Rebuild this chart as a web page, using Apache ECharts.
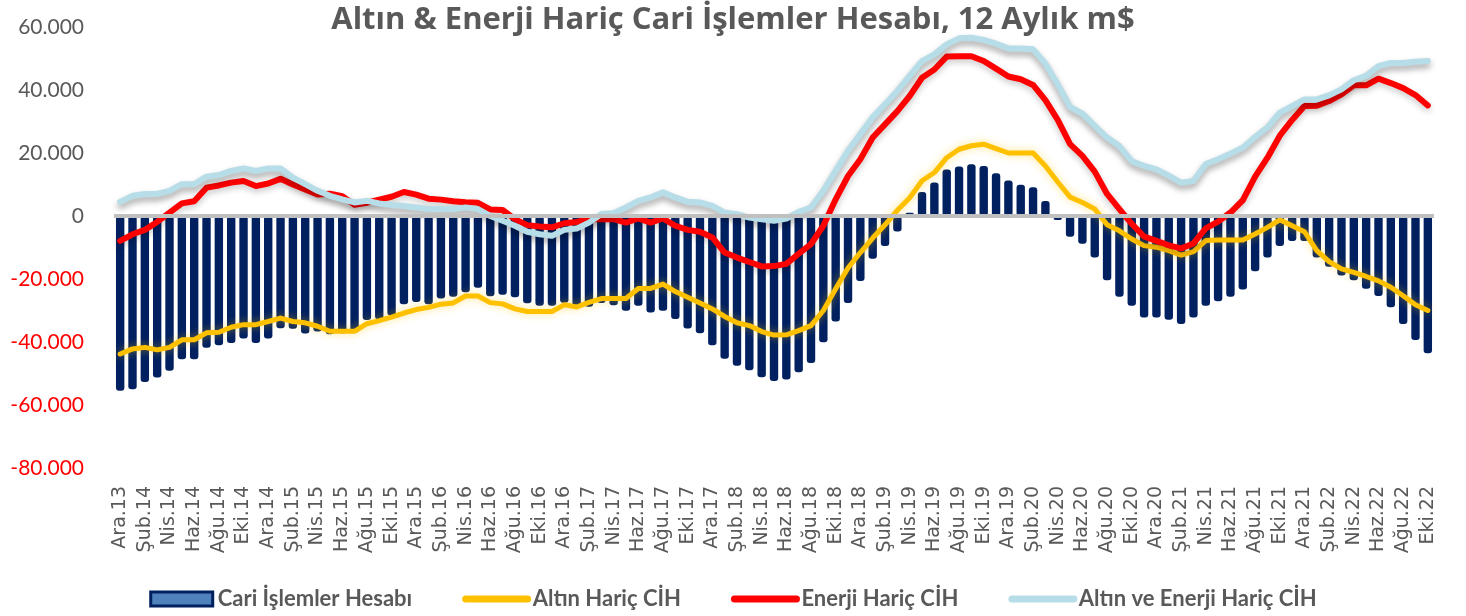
<!DOCTYPE html>
<html>
<head>
<meta charset="utf-8">
<script src="https://cdn.jsdelivr.net/npm/echarts@6/dist/echarts.min.js"></script>
<style>
html,body{margin:0;padding:0;background:#fff;}
#chart{width:1466px;height:616px;}
</style>
</head>
<body>
<div id="chart"></div>
<script>
const titleText = 'Altın & Enerji Hariç Cari İşlemler Hesabı, 12 Aylık m$';
const seriesNames = ['Cari İşlemler Hesabı', 'Altın Hariç CİH', 'Enerji Hariç CİH', 'Altın ve Enerji Hariç CİH'];
const categories = [
'Ara.13',
'Oca.14','Şub.14','Mar.14','Nis.14','May.14','Haz.14','Tem.14','Ağu.14','Eyl.14','Eki.14','Kas.14','Ara.14',
'Oca.15','Şub.15','Mar.15','Nis.15','May.15','Haz.15','Tem.15','Ağu.15','Eyl.15','Eki.15','Kas.15','Ara.15',
'Oca.16','Şub.16','Mar.16','Nis.16','May.16','Haz.16','Tem.16','Ağu.16','Eyl.16','Eki.16','Kas.16','Ara.16',
'Oca.17','Şub.17','Mar.17','Nis.17','May.17','Haz.17','Tem.17','Ağu.17','Eyl.17','Eki.17','Kas.17','Ara.17',
'Oca.18','Şub.18','Mar.18','Nis.18','May.18','Haz.18','Tem.18','Ağu.18','Eyl.18','Eki.18','Kas.18','Ara.18',
'Oca.19','Şub.19','Mar.19','Nis.19','May.19','Haz.19','Tem.19','Ağu.19','Eyl.19','Eki.19','Kas.19','Ara.19',
'Oca.20','Şub.20','Mar.20','Nis.20','May.20','Haz.20','Tem.20','Ağu.20','Eyl.20','Eki.20','Kas.20','Ara.20',
'Oca.21','Şub.21','Mar.21','Nis.21','May.21','Haz.21','Tem.21','Ağu.21','Eyl.21','Eki.21','Kas.21','Ara.21',
'Oca.22','Şub.22','Mar.22','Nis.22','May.22','Haz.22','Tem.22','Ağu.22','Eyl.22','Eki.22'
];
// m$ values
const cariIslemler = [
-55500,-55000,-52700,-51300,-49100,-45500,-45500,-41800,-41000,-40300,-38900,-40300,-38900,-35600,-35800,-37300,-36700,-37500,-37200,-37000,
-33000,-32800,-31600,-28000,-27300,-28000,-26200,-25600,-24200,-22800,-25500,-25000,-25800,-27700,-28500,-28500,-27500,-28800,-28800,-27600,
-28300,-30100,-28500,-30600,-30100,-32700,-35700,-37200,-41000,-45300,-47500,-49000,-51200,-52400,-51900,-49600,-46700,-40100,-33500,-27600,
-20600,-13600,-9500,-4900,1000,7600,10600,14800,15700,16400,15900,13600,11300,9900,9100,4800,-1300,-6600,-8800,-13200,
-20400,-25600,-28500,-32200,-32200,-32900,-34300,-32200,-28500,-27100,-25600,-23300,-17500,-13200,-9500,-7900,-7900,-13200,-16100,-18900,
-20400,-23100,-25400,-29000,-34300,-39400,-43600
];
const altinHaric = [
-43800,-42200,-41700,-42500,-41700,-39300,-39300,-37100,-36900,-35300,-34500,-34500,-33500,-32400,-33500,-33900,-35000,-36600,-36600,-36600,
-34200,-33200,-32100,-30800,-29700,-29000,-28000,-27600,-25400,-25400,-27500,-27900,-29500,-30300,-30300,-30300,-28200,-28900,-27400,-26200,
-26200,-26200,-23000,-23000,-21600,-24000,-25800,-27600,-29500,-31900,-33900,-34800,-36700,-37800,-37700,-36400,-34800,-30000,-23100,-16500,
-11600,-7000,-2800,1800,5800,11200,13800,18500,21200,22300,22800,21400,20000,20000,20000,15900,10800,6000,4300,2200,
-2800,-4700,-7300,-9400,-9900,-11000,-12400,-11300,-7800,-7600,-7600,-7600,-5700,-3600,-1200,-3100,-5000,-11000,-14500,-16800,
-17900,-19200,-20600,-22600,-25300,-28200,-30000
];
const enerjiHaric = [
-7900,-5800,-4400,-1900,1100,4000,4700,9000,9700,10600,11100,9500,10300,11800,10000,8400,6800,7100,6300,3600,
4200,5200,6100,7600,6800,5500,5200,4700,4400,4200,2100,1900,-1000,-2900,-3300,-3600,-2300,-1900,-1000,-1000,
-1000,-2100,-800,-2100,-800,-3100,-4400,-5000,-6800,-11600,-13200,-14600,-16000,-15900,-15200,-12000,-8900,-3100,5300,12700,
18000,24900,29100,33300,38100,43900,46500,50600,50700,50700,49200,46800,44300,43400,41600,36800,30500,22800,19100,14100,
7000,2200,-2500,-6500,-7900,-9300,-10300,-8700,-3900,-1800,1100,5000,12500,18500,25500,30500,34900,35000,36500,38600,
41500,41500,43600,42200,40600,38400,35100
];
const altinEnerjiHaric = [
4500,6400,7000,7000,8000,10100,10100,12500,13000,14300,15100,14300,15100,15100,12200,10100,8000,6400,5300,4300,
4800,4000,3500,3200,2700,2200,2200,2200,2700,2200,0,-1500,-3100,-5000,-5800,-6300,-4400,-4000,-2100,600,
900,2700,4800,5900,7500,5900,4500,4300,3200,1100,600,-500,-1000,-1500,-800,1300,2700,8000,14300,20700,
26000,31300,35500,39700,44500,49200,51300,54500,56400,56600,55900,54700,53200,53200,52900,48400,41800,34600,32500,28600,
24900,22200,17400,15900,14800,12800,10600,11100,16500,18000,19800,21700,25100,28100,32800,34900,37000,37000,38300,40200,
43100,44500,47600,48600,48600,49000,49200
];
const yTicks = {min: -80000, max: 60000, interval: 20000};

const chart = echarts.init(document.getElementById('chart'), null, {renderer: 'canvas'});
function fmt(v) {
  if (v === 0) return '0';
  return (v / 1000).toFixed(0) + '.000';
}
const lineColors = ['#ffc000', '#ff0000', '#b7dde8'];
function lineLegend(name, color) {
  return {
    name: name,
    itemStyle: {color: 'rgba(0,0,0,0)', borderWidth: 0, borderColor: 'rgba(0,0,0,0)'},
    lineStyle: {color: color, width: 7, cap: 'round', shadowBlur: 0, shadowOffsetY: 0, shadowColor: 'rgba(0,0,0,0)'}
  };
}
const option = {
  backgroundColor: '#ffffff',
  animation: false,
  title: {
    text: titleText,
    left: 'center',
    top: 0,
    textStyle: {fontFamily: 'Open Sans', fontWeight: 'bold', fontSize: 31, color: '#595959'}
  },
  legend: {
    bottom: 1,
    left: 'center',
    itemGap: 50,
    itemWidth: 62,
    itemHeight: 14,
    textStyle: {fontFamily: 'Lato', fontWeight: 'bold', fontSize: 22, color: '#595959'},
    data: [
      {name: seriesNames[0], icon: 'rect', itemStyle: {color: '#4f81bd', borderColor: '#002060', borderWidth: 3}},
      lineLegend(seriesNames[1], lineColors[0]),
      lineLegend(seriesNames[2], lineColors[1]),
      lineLegend(seriesNames[3], lineColors[2])
    ]
  },
  grid: {left: 114, right: 32, top: 27, bottom: 148, containLabel: false},
  xAxis: {
    type: 'category',
    data: categories,
    boundaryGap: true,
    axisLine: {show: false, onZero: false},
    axisTick: {show: false},
    splitLine: {show: false},
    axisLabel: {
      interval: 1,
      rotate: 90,
      margin: 18,
      fontFamily: 'DejaVu Sans',
      fontSize: 19,
      color: '#595959'
    }
  },
  yAxis: {
    type: 'value',
    min: yTicks.min,
    max: yTicks.max,
    interval: yTicks.interval,
    axisLine: {show: false},
    axisTick: {show: false},
    splitLine: {show: false},
    axisLabel: {
      margin: 30,
      formatter: function (v) { return (v < 0 ? '{n|' : '{p|') + fmt(v) + '}'; },
      rich: {
        n: {color: '#ff0000', fontFamily: 'Lato', fontSize: 21},
        p: {color: '#595959', fontFamily: 'Lato', fontSize: 21}
      }
    }
  },
  series: [
    {
      name: seriesNames[0],
      type: 'bar',
      data: cariIslemler,
      barWidth: '68%',
      itemStyle: {color: '#002060', borderRadius: 3},
      markLine: {
        silent: true,
        symbol: ['none', 'none'],
        label: {show: false},
        lineStyle: {color: '#c0c0c0', width: 4, type: 'solid'},
        data: [{yAxis: 0}]
      }
    },
    {
      name: seriesNames[1],
      type: 'line',
      data: altinHaric,
      symbol: 'none',
      lineStyle: {color: lineColors[0], width: 5, cap: 'round', join: 'round', shadowColor: 'rgba(255,200,0,0.45)', shadowBlur: 8},
      itemStyle: {color: lineColors[0]}
    },
    {
      name: seriesNames[2],
      type: 'line',
      data: enerjiHaric,
      symbol: 'none',
      lineStyle: {color: lineColors[1], width: 6, cap: 'round', join: 'round', shadowColor: 'rgba(0,0,0,0.22)', shadowBlur: 6, shadowOffsetY: 3},
      itemStyle: {color: lineColors[1]}
    },
    {
      name: seriesNames[3],
      type: 'line',
      data: altinEnerjiHaric,
      symbol: 'none',
      lineStyle: {color: lineColors[2], width: 6, cap: 'round', join: 'round', shadowColor: 'rgba(0,0,0,0.35)', shadowBlur: 6, shadowOffsetY: 4},
      itemStyle: {color: lineColors[2]}
    }
  ]
};
chart.setOption(option);
</script>
</body>
</html>
